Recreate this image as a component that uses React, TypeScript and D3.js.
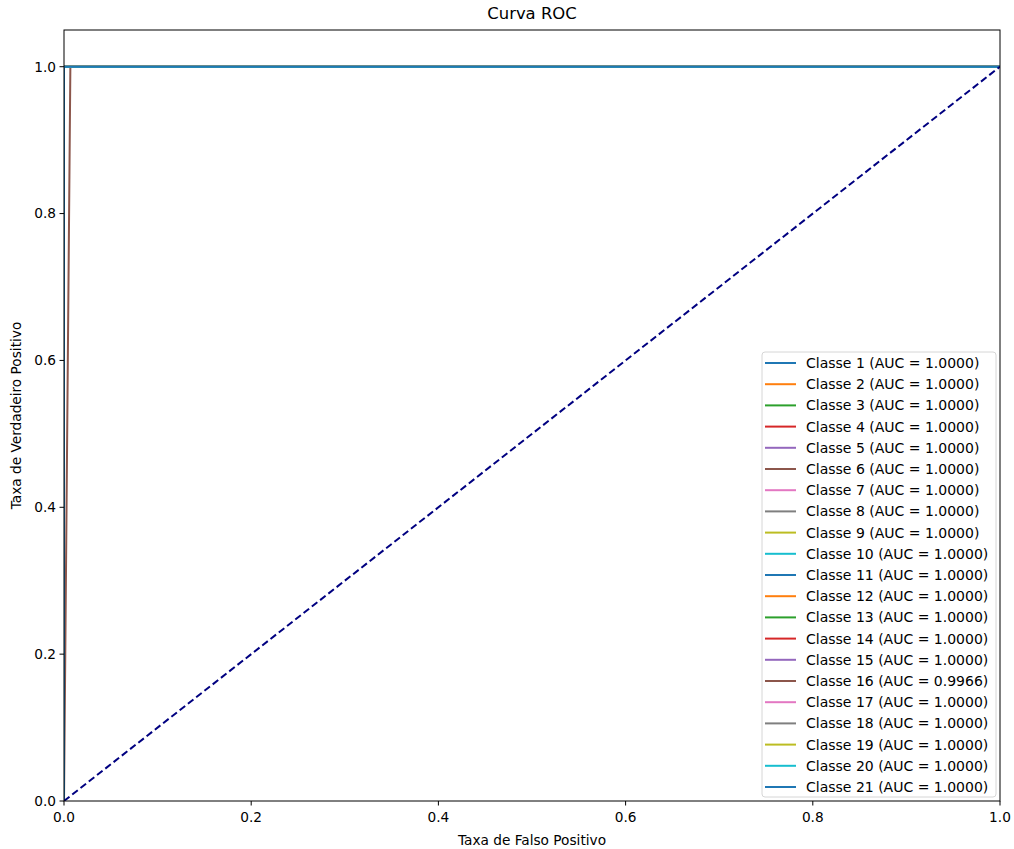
import React from 'react';
import * as d3 from 'd3';

const classNames = Array.from({ length: 21 }, (_, i) => `Classe ${i + 1}`);
const aucValues = [
  1.0, 1.0, 1.0, 1.0, 1.0, 1.0, 1.0, 1.0, 1.0, 1.0, 1.0,
  1.0, 1.0, 1.0, 1.0, 0.9966, 1.0, 1.0, 1.0, 1.0, 1.0,
];
// fpr / tpr points of each ROC curve
const perfectFpr = [0, 0, 1];
const perfectTpr = [0, 1, 1];
const class16Fpr = [0, 0.0068, 1];
const class16Tpr = [0, 1, 1];
const xTicks = [0, 0.2, 0.4, 0.6, 0.8, 1.0];
const yTicks = [0, 0.2, 0.4, 0.6, 0.8, 1.0];
const tab10 = [
  '#1f77b4', '#ff7f0e', '#2ca02c', '#d62728', '#9467bd',
  '#8c564b', '#e377c2', '#7f7f7f', '#bcbd22', '#17becf',
];

const W = 1014;
const H = 849;
const m = { left: 64, right: 1000, top: 30, bottom: 801 };
const font = 'DejaVu Sans, sans-serif';
const fs = 13.7;

export default function App() {
  const x = d3.scaleLinear().domain([0, 1]).range([m.left, m.right]);
  const y = d3.scaleLinear().domain([0, 1.05]).range([m.bottom, m.top]);

  const curves = classNames.map((name, i) => {
    const fpr = i === 15 ? class16Fpr : perfectFpr;
    const tpr = i === 15 ? class16Tpr : perfectTpr;
    return { name, auc: aucValues[i], color: tab10[i % 10], pts: fpr.map((f, j) => [f, tpr[j]] as [number, number]) };
  });

  const line = d3
    .line<[number, number]>()
    .x((d) => x(d[0]))
    .y((d) => y(d[1]));

  const legX = 762;
  const legY = 352;
  const legW = 234;
  const rowH = 21.2;

  return (
    <svg width={W} height={H} style={{ position: 'absolute', left: 0, top: 0, background: '#fff' }} fontFamily={font}>
      <rect x={0} y={0} width={W} height={H} fill="#fff" />
      <defs>
        <clipPath id="plot">
          <rect x={m.left} y={m.top} width={m.right - m.left} height={m.bottom - m.top} />
        </clipPath>
      </defs>
      <g clipPath="url(#plot)">
        {curves.map((c) => (
          <path key={c.name} d={line(c.pts) || ''} fill="none" stroke={c.color} strokeWidth={2} />
        ))}
        <path
          d={line([[0, 0], [1, 1]]) || ''}
          fill="none"
          stroke="navy"
          strokeWidth={2}
          strokeDasharray="7,3.5"
        />
      </g>
      <rect
        x={m.left}
        y={m.top}
        width={m.right - m.left}
        height={m.bottom - m.top}
        fill="none"
        stroke="#000"
        strokeWidth={1}
      />
      {xTicks.map((t) => (
        <g key={'x' + t}>
          <line x1={x(t)} x2={x(t)} y1={m.bottom} y2={m.bottom + 4.5} stroke="#000" />
          <text x={x(t)} y={m.bottom + 21} textAnchor="middle" fontSize={fs}>
            {t.toFixed(1)}
          </text>
        </g>
      ))}
      {yTicks.map((t) => (
        <g key={'y' + t}>
          <line x1={m.left - 4.5} x2={m.left} y1={y(t)} y2={y(t)} stroke="#000" />
          <text x={m.left - 8} y={y(t)} dy="0.35em" textAnchor="end" fontSize={fs}>
            {t.toFixed(1)}
          </text>
        </g>
      ))}
      <text x={(m.left + m.right) / 2} y={19} textAnchor="middle" fontSize={fs * 1.2}>
        Curva ROC
      </text>
      <text x={(m.left + m.right) / 2} y={845} textAnchor="middle" fontSize={fs}>
        Taxa de Falso Positivo
      </text>
      <text
        transform={`translate(21, ${(m.top + m.bottom) / 2}) rotate(-90)`}
        textAnchor="middle"
        fontSize={fs}
      >
        Taxa de Verdadeiro Positivo
      </text>
      <rect
        x={legX}
        y={legY}
        width={legW}
        height={445}
        rx={3}
        fill="#fff"
        fillOpacity={0.8}
        stroke="#d6d6d6"
      />
      {curves.map((c, i) => {
        const cy = legY + 11 + i * rowH;
        return (
          <g key={'leg' + c.name}>
            <line x1={legX + 3} x2={legX + 34} y1={cy} y2={cy} stroke={c.color} strokeWidth={2} />
            <text x={legX + 44} y={cy} dy="0.35em" fontSize={14}>
              {`${c.name} (AUC = ${c.auc.toFixed(4)})`}
            </text>
          </g>
        );
      })}
    </svg>
  );
}
